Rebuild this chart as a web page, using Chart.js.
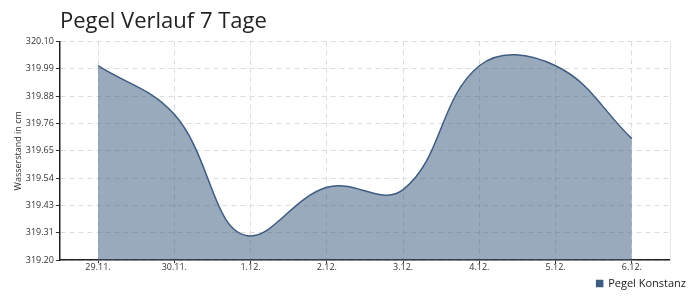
<!DOCTYPE html>
<html>
<head>
<meta charset="utf-8">
<script src="https://cdn.jsdelivr.net/npm/chart.js@4"></script>
<style>
  html, body { margin: 0; padding: 0; background: #fff; }
  #wrap { width: 700px; height: 300px; }
</style>
</head>
<body>
<div id="wrap"><canvas id="c" width="700" height="300"></canvas></div>
<script>
const categories = ['29.11.', '30.11.', '1.12.', '2.12.', '3.12.', '4.12.', '5.12.', '6.12.'];
const pegelKonstanz = [320.00, 319.80, 319.30, 319.50, 319.49, 320.00, 320.00, 319.70];
const yTickLabels = ['319.20', '319.31', '319.43', '319.54', '319.65', '319.76', '319.88', '319.99', '320.10'];
const yMin = 319.20;
const yMax = 320.10;

const lineColor = 'rgb(62,92,128)';
const tickFont = { family: "'Open Sans', sans-serif", size: 9 };

// Spline tweak: at sharp local extrema, flatten the tangent of the control points
// that Chart.js itself computed (avoids false extremes beside the point).
const flatExtrema = {
  id: 'flatExtrema',
  afterDatasetsUpdate(chart) {
    chart.getSortedVisibleDatasetMetas().forEach(meta => {
      if (meta.type !== 'line' || !meta.dataset) return;
      meta.dataset.updateControlPoints(chart.chartArea, 'x');
      const pts = meta.data;
      for (let i = 1; i < pts.length - 1; i++) {
        const p = pts[i], a = pts[i - 1], b = pts[i + 1];
        const da = p.y - a.y, db = p.y - b.y;
        if (da * db > 0 && Math.min(Math.abs(da), Math.abs(db)) > 10) {
          p.cp1y = p.y;
          p.cp2y = p.y;
        }
      }
    });
  }
};

new Chart(document.getElementById('c'), {
  type: 'line',
  data: {
    labels: categories,
    datasets: [{
      label: 'Pegel Konstanz',
      data: pegelKonstanz,
      borderColor: lineColor,
      backgroundColor: 'rgba(62,92,128,0.52)',
      borderWidth: 1.5,
      fill: 'origin',
      tension: 0.4,
      pointRadius: 0,
      pointHoverRadius: 0,
      yAxisID: 'y'
    }]
  },
  options: {
    responsive: false,
    animation: false,
    layout: { padding: { left: 13, right: 8, top: 0, bottom: 1 } },
    plugins: {
      title: {
        display: true,
        text: 'Pegel Verlauf 7 Tage',
        align: 'start',
        fullSize: false,
        color: '#222',
        font: { family: "'Open Sans', sans-serif", size: 22, weight: 'normal' },
        padding: { top: 9, bottom: 6 }
      },
      legend: {
        position: 'bottom',
        align: 'end',
        labels: {
          usePointStyle: true,
          pointStyle: 'rect',
          boxWidth: 6,
          boxHeight: 6,
          color: '#222',
          font: { family: "'Open Sans', sans-serif", size: 11 },
          padding: 6,
          generateLabels(chart) {
            const items = Chart.defaults.plugins.legend.labels.generateLabels(chart);
            items.forEach(it => { it.fillStyle = lineColor; it.strokeStyle = lineColor; });
            return items;
          }
        }
      },
      tooltip: { enabled: false }
    },
    scales: {
      x: {
        offset: true,
        grid: {
          offset: false,
          color: '#dcdcdc',
          tickColor: '#333',
          tickLength: 3
        },
        border: { color: '#222', width: 1.5, dash: [5, 4] },
        ticks: { color: '#333', font: tickFont, padding: -1, maxRotation: 0 }
      },
      y: {
        min: yMin,
        max: yMax,
        afterBuildTicks(scale) {
          scale.ticks = yTickLabels.map((_, i) => ({ value: yMin + i * (yMax - yMin) / (yTickLabels.length - 1) }));
        },
        grid: {
          color: '#dcdcdc',
          tickColor: '#333',
          tickLength: 4
        },
        border: { color: '#222', width: 1.5, dash: [5, 4] },
        ticks: {
          color: '#333',
          font: tickFont,
          padding: 2,
          callback: (v, i) => yTickLabels[i]
        },
        title: {
          display: true,
          text: 'Wasserstand in cm',
          color: '#333',
          font: { family: "'Open Sans', sans-serif", size: 9 },
          padding: { top: 0, bottom: 0 }
        }
      },
      yRight: {
        position: 'right',
        display: true,
        grid: { display: false, drawTicks: false },
        ticks: { display: false },
        border: { display: true, color: '#e6e6e6', width: 1 },
        afterFit(scale) { scale.width = 22; }
      }
    }
  },
  plugins: [flatExtrema]
});
</script>
</body>
</html>
